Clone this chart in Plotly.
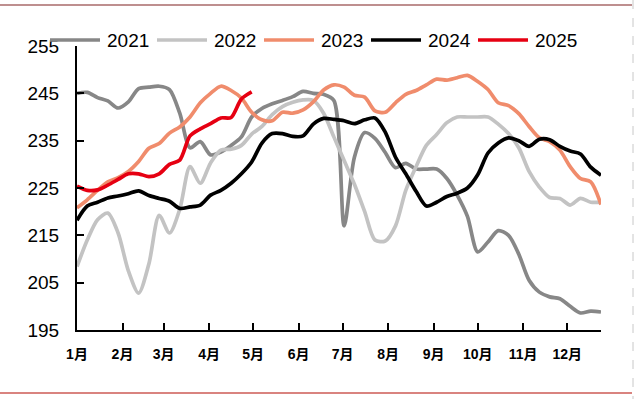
import datetime as dt
import plotly.graph_objects as go

# ---------------- data (weekly readings, week 0 = Jan 1) ----------------
years = ["2021", "2022", "2023", "2024", "2025"]
colors = ["#878787", "#c3c3c3", "#f08c6c", "#000000", "#e60012"]

v2021 = [245.0, 245.2, 244.1, 243.4, 241.9, 243.2, 246.0, 246.3, 246.5, 245.8,
         240.8, 233.5, 234.8, 232.0, 232.6, 234.0, 235.8, 240.0, 241.8, 242.8,
         243.5, 244.3, 245.4, 245.0, 244.8, 243.5, 217.0, 231.5, 236.7, 235.5,
         232.5, 229.3, 230.2, 229.0, 229.0, 229.0, 227.0, 223.5, 219.0, 211.5,
         213.6, 216.0, 215.0, 211.0, 205.5, 203.0, 202.0, 201.6, 200.0, 198.6,
         199.0, 198.8]
v2022 = [208.4, 214.0, 218.3, 219.7, 215.5, 207.5, 202.8, 209.0, 219.2, 215.5,
         220.5, 229.5, 226.0, 230.3, 233.0, 233.2, 234.0, 236.4, 238.0, 240.5,
         242.2, 243.1, 243.6, 243.5, 240.8, 235.8, 230.8, 225.8, 220.0, 214.0,
         213.8, 217.0, 224.5, 229.5, 234.0, 236.3, 238.8, 240.0, 240.0, 240.0,
         240.0, 238.5, 236.5, 233.5, 228.5, 225.2, 223.0, 222.8, 221.4, 222.8,
         222.0, 222.0]
v2023 = [220.8, 222.5, 224.5, 226.3, 227.2, 228.5, 230.6, 233.4, 234.4, 236.6,
         237.9, 240.0, 243.0, 245.0, 246.5, 245.6, 244.0, 241.0, 239.4, 239.2,
         241.0, 240.8, 241.5, 243.2, 245.7, 246.8, 246.3, 244.6, 244.2, 241.3,
         241.0, 243.0, 244.8, 245.6, 246.8, 248.0, 247.8, 248.3, 248.8, 247.5,
         245.8, 243.0, 242.4, 240.7, 238.0, 235.6, 234.8, 233.0, 229.5, 227.0,
         226.3, 221.5]
v2024 = [218.2, 221.2, 222.0, 222.9, 223.3, 223.8, 224.4, 223.4, 222.8, 222.2,
         220.7, 221.0, 221.4, 223.5, 224.5, 226.0, 228.0, 230.5, 234.5, 236.5,
         236.5, 235.9, 236.0, 238.5, 239.7, 239.5, 239.2, 238.6, 239.4, 239.8,
         236.8, 231.5, 228.0, 224.3, 221.2, 222.0, 223.2, 223.9, 225.0, 227.8,
         232.4, 234.5, 235.6, 235.0, 233.8, 235.3, 235.2, 233.8, 232.8, 232.2,
         229.4, 227.7]
v2025 = [225.4, 224.5, 224.6, 225.6, 226.8, 228.0, 228.0, 227.4, 228.0, 230.0,
         230.9, 236.0, 237.5, 238.6, 239.8, 239.9, 243.8, 245.3]

series = [v2021, v2022, v2023, v2024, v2025]
month_labels = [f"{m}月" for m in range(1, 13)]
y_ticks = [195, 205, 215, 225, 235, 245, 255]

# ---------------- layout geometry ----------------
W, H = 640, 399
L, R, T, B = 77, 601, 46, 330   # plot area in pixels

base = dt.date(2023, 1, 1)


def week_dates(n):
    return [base + dt.timedelta(days=7 * k) for k in range(n)]


def px(x):
    return (x - L) / (R - L)


def py(y):
    return (B - y) / (B - T)


fig = go.Figure()
for name, vals, col in zip(years, series, colors):
    fig.add_trace(go.Scatter(
        x=week_dates(len(vals)), y=vals, mode="lines", name=name,
        line=dict(color=col, width=3.7, shape="spline", smoothing=0.8),
        showlegend=False, hoverinfo="skip"))

font_main = "Liberation Sans, Arial, sans-serif"

# custom legend
shapes = []
annotations = []
for i, (name, col) in enumerate(zip(years, colors)):
    x0 = 50 + i * 107
    shapes.append(dict(type="line", xref="paper", yref="paper",
                       x0=px(x0), x1=px(x0 + 50), y0=py(40), y1=py(40),
                       line=dict(color=col, width=3.6)))
    annotations.append(dict(xref="paper", yref="paper", x=px(x0 + 55), y=py(40.5),
                            text=name, showarrow=False, xanchor="left",
                            yanchor="middle",
                            font=dict(family=font_main, size=19, color="#000")))

# decorative frame lines
shapes.append(dict(type="line", xref="paper", yref="paper",
                   x0=px(0), x1=px(632), y0=py(5), y1=py(5),
                   line=dict(color="#a86a6a", width=1.6)))
shapes.append(dict(type="line", xref="paper", yref="paper",
                   x0=px(0), x1=px(632), y0=py(393), y1=py(393),
                   line=dict(color="#cc5a55", width=1.4)))
shapes.append(dict(type="line", xref="paper", yref="paper",
                   x0=px(633), x1=px(633), y0=py(0), y1=py(399),
                   line=dict(color="#c8c8c8", width=1, dash="dash")))

x_end = base + dt.timedelta(days=357, hours=12)
month_starts = [dt.date(2023, m, 1) for m in range(1, 13)]

fig.update_layout(
    width=W, height=H,
    margin=dict(l=L, r=W - R, t=T, b=H - B, pad=0),
    paper_bgcolor="white", plot_bgcolor="white",
    shapes=shapes, annotations=annotations,
    showlegend=False,
    xaxis=dict(type="date", range=[base, x_end], tickvals=month_starts,
               ticktext=month_labels, showgrid=False, zeroline=False,
               showline=True, linecolor="#000", linewidth=2,
               ticks="inside", ticklen=7, tickwidth=2, tickcolor="#000",
               ticklabelstandoff=10,
               tickfont=dict(family="Liberation Sans, Noto Sans CJK SC", size=14,
                             color="#000", weight="bold")),
    yaxis=dict(range=[195, 255], tickvals=y_ticks, showgrid=False,
               zeroline=False, showline=True, linecolor="#000", linewidth=2,
               ticks="inside", ticklen=7, tickwidth=2, tickcolor="#000",
               ticklabelstandoff=12,
               tickfont=dict(family=font_main, size=19, color="#000")),
)

fig.write_html(
    "out.html",
    config={"displayModeBar": False},
    post_script="document.body.style.margin='0';document.body.style.overflow='hidden';",
)
